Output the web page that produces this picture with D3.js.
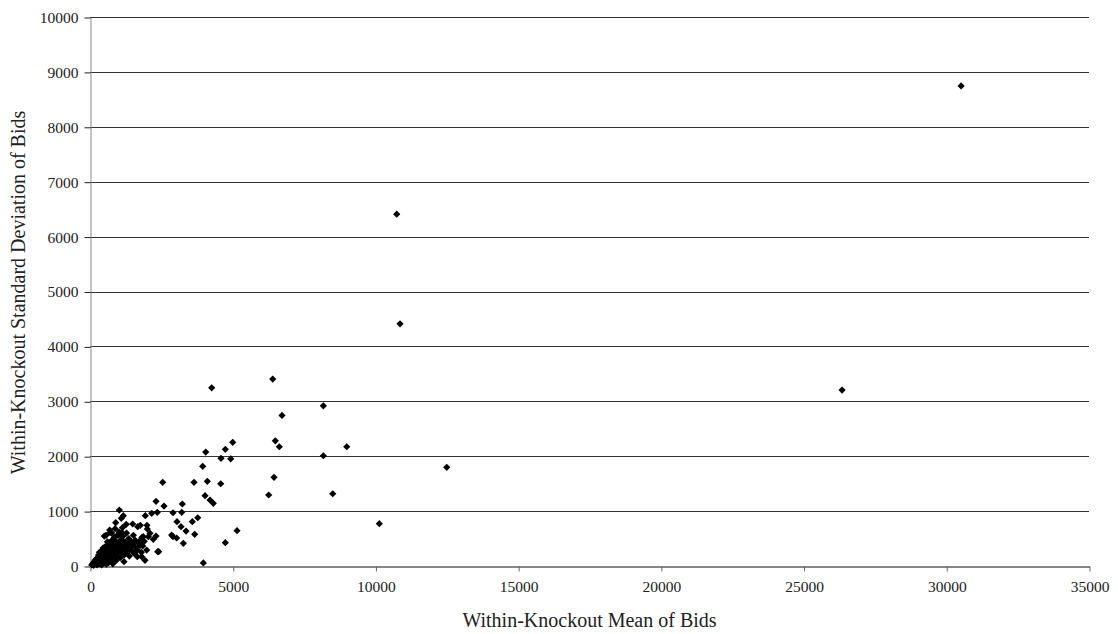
<!DOCTYPE html>
<html>
  <head>
    <title>Knockout bids scatter</title>
    <script src="https://d3js.org/d3.v7.min.js"></script>
    <style>
      body { margin: 0; background: #fff; }
      text { font-family: "Liberation Serif", "DejaVu Serif", serif; fill: #222; }
    </style>
  </head>
  <body>
    <svg width="1118" height="634"></svg>
    <script>
      // data: within-knockout mean (x) and standard deviation (y) of bids
      var meanBids = [
        30519, 26349, 10746, 10862, 12498, 10137,
        4264, 6402, 8175, 6727, 5000, 4054, 4741, 6493, 6633, 8995, 4590, 4930, 8175,
        3949, 6447, 4110, 4580, 4030, 4205, 4320, 6261, 8504, 5151, 4741, 3970,
        2547, 3644, 2313, 2593, 1027, 3234, 2908, 3213, 2162, 2358, 1938, 1097, 3048,
        3189, 3364, 3585, 3774, 900, 1496, 1763, 1997, 690, 1121, 2908, 3037, 2313,
        561, 3668, 3270, 2407, 1658, 1927, 2044, 1191, 2008, 2102, 2218, 1847, 1987,
        1811, 1752, 1542, 1868, 2862, 2372, 1167, 701, 1086, 501, 1671, 1780, 1900, 1820,
        60, 100, 130, 150, 180, 200, 220, 250, 260, 280, 300, 320, 340, 360, 380, 400,
        410, 430, 450, 470, 480, 500, 520, 540, 550, 570, 590, 600, 620, 640, 650, 670,
        690, 700, 720, 740, 750, 770, 790, 800, 820, 840, 850, 870, 890, 900, 920, 940,
        960, 970, 990, 1000, 1020, 1040, 1060, 1080, 1100, 1120, 1150, 1170, 1200, 1220,
        1250, 1280, 1300, 1330, 1360, 1380, 1400, 1430, 1460, 1490, 1520, 1550, 1580,
        1600, 1650, 1700, 1750, 1800, 240, 330, 460, 610, 760, 880, 1010, 1140, 1270
      ];
      var sdBids = [
        8744, 3204, 6408, 4411, 1797, 770,
        3246, 3404, 2918, 2743, 2252, 2075, 2125, 2281, 2172, 2172, 1961, 1953, 2008,
        1815, 1615, 1542, 1498, 1280, 1202, 1141, 1293, 1316, 644, 424, 55,
        1524, 1524, 1178, 1092, 1019, 1129, 970, 978, 959, 978, 916, 868, 807,
        716, 637, 807, 879, 789, 765, 741, 741, 655, 607, 534, 510, 546,
        559, 577, 413, 260, 169, 104, 534, 78, 674, 596, 486, 364, 291,
        169, 413, 424, 534, 564, 260, 916, 606, 595, 546, 716, 480, 450, 520,
        20, 50, 10, 80, 40, 120, 60, 20, 150, 90, 200, 40, 130, 240, 80, 180,
        20, 290, 120, 60, 220, 330, 160, 100, 260, 30, 380, 200, 130, 300, 60, 420,
        240, 170, 350, 90, 460, 280, 200, 40, 390, 140, 520, 310, 230, 450, 100, 350,
        560, 180, 270, 420, 620, 330, 150, 480, 240, 380, 540, 290, 200, 440,
        340, 600, 260, 400, 500, 180, 330, 450, 280, 380, 560, 230, 470,
        340, 290, 420, 370, 250, 110, 250, 330, 440, 600, 680, 570, 700, 760
      ];
      var xTicks = [0, 5000, 10000, 15000, 20000, 25000, 30000, 35000];
      var yTicks = [0, 1000, 2000, 3000, 4000, 5000, 6000, 7000, 8000, 9000, 10000];
      var xTitle = "Within-Knockout Mean of Bids";
      var yTitle = "Within-Knockout Standard Deviation of Bids";

      var svg = d3.select("svg");
      var plotLeft = 90, plotRight = 1089, plotTop = 17, plotBottom = 566;

      // scales
      var xScale = d3.scaleLinear().domain([0, 35000]).range([plotLeft, plotRight]);
      var yScale = d3.scaleLinear().domain([0, 10000]).range([plotBottom, plotTop]);

      // horizontal gridlines
      svg.append("g").selectAll("line").data(yTicks.slice(1)).enter().append("line")
        .attr("x1", plotLeft).attr("x2", plotRight)
        .attr("y1", function(d) { return Math.round(yScale(d)) + 0.5; })
        .attr("y2", function(d) { return Math.round(yScale(d)) + 0.5; })
        .attr("stroke", "#333").attr("stroke-width", 1);

      // axes
      var xAxis = d3.axisBottom(xScale).tickValues(xTicks).tickSize(5).tickSizeOuter(0).tickPadding(9)
        .tickFormat(d3.format("d"));
      var yAxis = d3.axisLeft(yScale).tickValues(yTicks).tickSize(6).tickSizeOuter(0).tickPadding(6)
        .tickFormat(d3.format("d"));

      var gy = svg.append("g").attr("transform", "translate(" + (plotLeft + 0.5) + ",0.5)").call(yAxis);
      gy.select(".domain").attr("stroke", "#888");
      gy.selectAll(".tick line").attr("stroke", "#222");
      gy.selectAll("text").style("font-size", "15.5px").attr("fill", "#222");

      var gx = svg.append("g").attr("transform", "translate(0.5," + (plotBottom + 0.5) + ")").call(xAxis);
      gx.select(".domain").attr("stroke", "#111");
      gx.selectAll(".tick line").attr("stroke", "#666");
      gx.selectAll("text").style("font-size", "15.5px").attr("fill", "#222");

      // points
      var points = meanBids.map(function(m, i) { return {x: m, y: sdBids[i]}; });
      var diamond = d3.symbol().type(d3.symbolSquare).size(26);
      svg.append("g").selectAll("path").data(points).enter().append("path")
        .attr("d", diamond)
        .attr("transform", function(d) {
          return "translate(" + xScale(d.x) + "," + yScale(d.y) + ") rotate(45)";
        })
        .attr("fill", "#000");

      // titles
      svg.append("text").attr("x", (plotLeft + plotRight) / 2).attr("y", 627)
        .attr("text-anchor", "middle").style("font-size", "20px").text(xTitle);
      svg.append("text").attr("transform", "translate(25," + ((plotTop + plotBottom) / 2 + 1) + ") rotate(-90)")
        .attr("text-anchor", "middle").style("font-size", "20px").text(yTitle);
    </script>
  </body>
</html>
